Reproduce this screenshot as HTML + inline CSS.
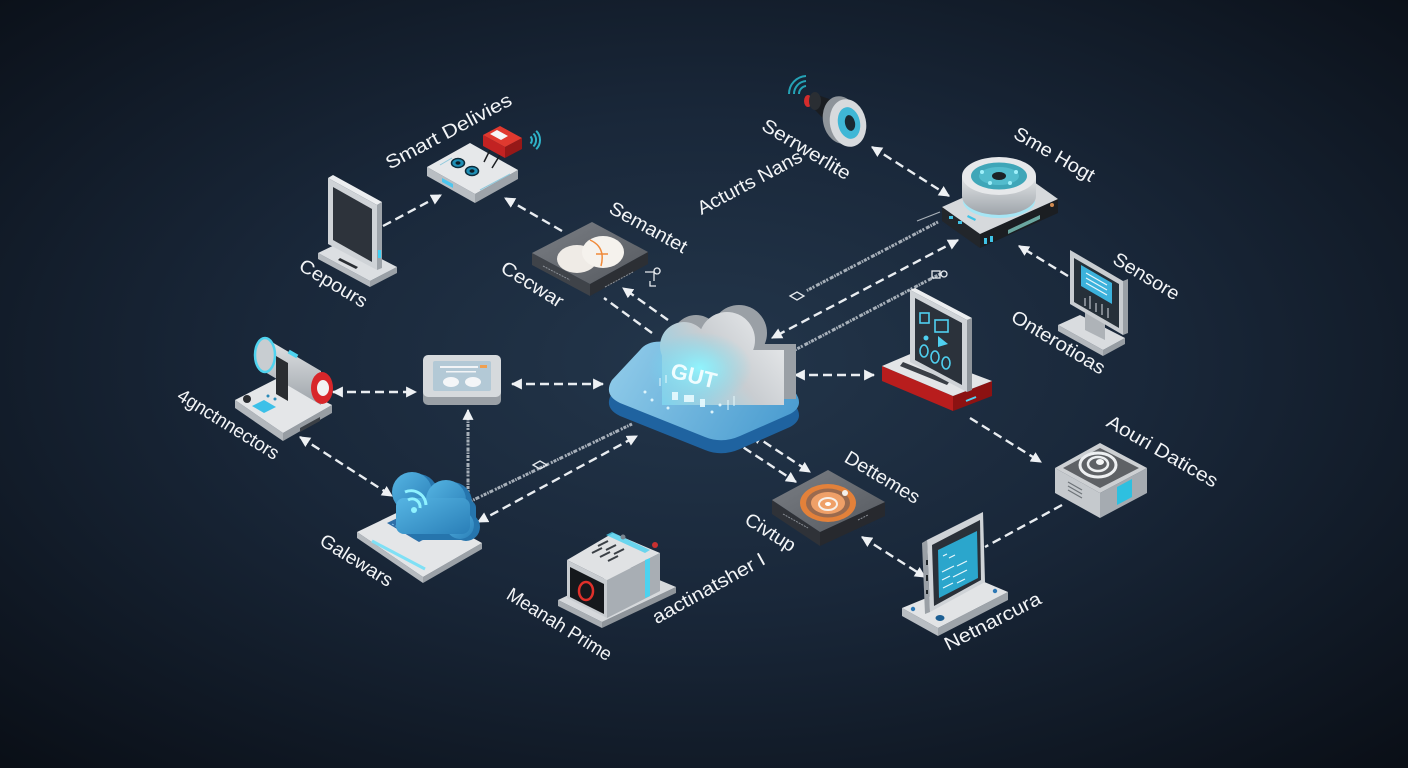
<!DOCTYPE html>
<html><head><meta charset="utf-8">
<style>
html,body{margin:0;padding:0;background:#0f1720;}
svg{display:block}
text{font-family:"Liberation Sans",sans-serif;fill:#f2f4f6;}
</style></head><body>
<svg width="1408" height="768" viewBox="0 0 1408 768" xmlns="http://www.w3.org/2000/svg">
<defs>
<radialGradient id="bg" cx="0.5" cy="0.47" r="0.72">
<stop offset="0" stop-color="#23364b"/>
<stop offset="0.45" stop-color="#192739"/>
<stop offset="1" stop-color="#0a0f17"/>
</radialGradient>
<linearGradient id="slab" x1="610" y1="345" x2="780" y2="445" gradientUnits="userSpaceOnUse">
<stop offset="0" stop-color="#93cdea"/><stop offset="1" stop-color="#4a9cd0"/>
</linearGradient>
<linearGradient id="cloudf" x1="770" y1="320" x2="665" y2="405" gradientUnits="userSpaceOnUse">
<stop offset="0" stop-color="#e6e8ea"/><stop offset="0.45" stop-color="#c9cdd1"/><stop offset="1" stop-color="#7fd2ec"/>
</linearGradient>
<radialGradient id="glow" cx="0.5" cy="0.5" r="0.5">
<stop offset="0" stop-color="#8ff6ff" stop-opacity="0.95"/><stop offset="1" stop-color="#6fdcf5" stop-opacity="0"/>
</radialGradient>
<linearGradient id="gcloud" x1="0" y1="0" x2="1" y2="1">
<stop offset="0" stop-color="#56b5e3"/><stop offset="1" stop-color="#2a7fb8"/>
</linearGradient>
<linearGradient id="cyl" x1="0" y1="0" x2="0" y2="1">
<stop offset="0" stop-color="#e2e5e7"/><stop offset="1" stop-color="#9ea4aa"/>
</linearGradient>
<linearGradient id="dgrey" x1="0" y1="0" x2="1" y2="1">
<stop offset="0" stop-color="#7b7f85"/><stop offset="1" stop-color="#55595f"/>
</linearGradient>
<marker id="a" viewBox="0 0 10 10" refX="9" refY="5" markerWidth="11" markerHeight="11" markerUnits="userSpaceOnUse" orient="auto-start-reverse"><path d="M0,0 L10,5 L0,10 z" fill="#eef1f4"/></marker>
</defs>

<rect width="1408" height="768" fill="url(#bg)"/>

<!-- code lines -->
<g fill="none" stroke="#c9d0d7" stroke-width="3" stroke-dasharray="2 1 3 1 1.5 1 4 2" opacity="0.8">
<line x1="938" y1="222" x2="806" y2="291"/>
<line x1="940" y1="274" x2="772" y2="362"/>
<line x1="467" y1="503" x2="632" y2="424"/>
<line x1="468" y1="492" x2="468" y2="414"/>
</g>
<line x1="468" y1="420" x2="468" y2="410" stroke="#e9edf1" stroke-width="2" marker-end="url(#a)"/>
<line x1="917" y1="221" x2="940" y2="212" stroke="#aab2ba" stroke-width="1.2"/>
<g fill="none" stroke="#e6eaee" stroke-width="1.3">
<polygon points="790,296 797,292 804,296 797,300"/>
<polygon points="533,465 540,461 547,465 540,469"/>
<rect x="932" y="271" width="8" height="7"/>
<circle cx="944" cy="274" r="3"/>
<path d="M645,272 h9 v9 M650,281 v5 h6 M657,274 a3,3 0 1 1 0.1,0"/>
</g>

<!-- dashed connectors -->
<g fill="none" stroke="#e9edf1" stroke-width="2.4" stroke-dasharray="9 5">
<line x1="383" y1="226" x2="441" y2="195" marker-end="url(#a)"/>
<line x1="562" y1="231" x2="505" y2="198" marker-end="url(#a)"/>
<line x1="668" y1="320" x2="623" y2="288" marker-end="url(#a)"/>
<line x1="652" y1="333" x2="604" y2="298"/>
<line x1="872" y1="147" x2="949" y2="196" marker-start="url(#a)" marker-end="url(#a)"/>
<line x1="958" y1="240" x2="772" y2="338" marker-start="url(#a)" marker-end="url(#a)"/>
<line x1="1068" y1="276" x2="1019" y2="246" marker-end="url(#a)"/>
<line x1="795" y1="375" x2="874" y2="375" marker-start="url(#a)" marker-end="url(#a)"/>
<line x1="970" y1="418" x2="1041" y2="462" marker-end="url(#a)"/>
<line x1="1062" y1="505" x2="985" y2="547"/>
<line x1="862" y1="537" x2="925" y2="577" marker-start="url(#a)" marker-end="url(#a)"/>
<line x1="732" y1="440" x2="796" y2="482" marker-end="url(#a)"/>
<line x1="752" y1="434" x2="810" y2="472" marker-start="url(#a)" marker-end="url(#a)"/>
<line x1="478" y1="522" x2="637" y2="436" marker-start="url(#a)" marker-end="url(#a)"/>
<line x1="512" y1="384" x2="603" y2="384" marker-start="url(#a)" marker-end="url(#a)"/>
<line x1="333" y1="392" x2="416" y2="392" marker-start="url(#a)" marker-end="url(#a)"/>
<line x1="300" y1="437" x2="392" y2="496" marker-start="url(#a)" marker-end="url(#a)"/>
</g>

<!-- Smart device -->
<polygon points="427,167 475,194 475,203 427,176" fill="#b9bec3"/>
<polygon points="475,194 518,170 518,179 475,203" fill="#9da3a9"/>
<polygon points="427,167 470,143 518,170 475,194" fill="#e6e8ea"/>
<polygon points="442,178 453,184 453,188 442,182" fill="#4cc6ef"/>
<ellipse cx="458" cy="163" rx="6.5" ry="4.5" fill="#1f8fb5" stroke="#0e2b3a" stroke-width="1.5"/>
<ellipse cx="458" cy="163" rx="2.5" ry="1.7" fill="#0d1d26"/>
<ellipse cx="472" cy="171" rx="6.5" ry="4.5" fill="#1f8fb5" stroke="#0e2b3a" stroke-width="1.5"/>
<ellipse cx="472" cy="171" rx="2.5" ry="1.7" fill="#0d1d26"/>
<g stroke="#8fc9dc" stroke-width="1"><line x1="480" y1="190" x2="510" y2="174"/><line x1="440" y1="165" x2="452" y2="158"/></g>
<path d="M490,150 L484,162 M500,155 L492,168" stroke="#1b1e22" stroke-width="1.5" fill="none"/>
<polygon points="483,135 505,147 505,158 483,146" fill="#c22222"/>
<polygon points="505,147 522,138 522,149 505,158" fill="#961818"/>
<polygon points="483,135 500,126 522,138 505,147" fill="#e0392f"/>
<polygon points="490,134 497,130 508,136 501,140" fill="#f6f6f6"/>
<g fill="none" stroke="#2fb3c9" stroke-width="2">
<path d="M530.5,136.5 A5,5 0 0 1 530.5,143.5"/>
<path d="M533.4,133.6 A9,9 0 0 1 533.4,146.4"/>
<path d="M536.2,130.8 A13,13 0 0 1 536.2,149.2"/>
</g>

<!-- Cepours tablet -->
<polygon points="318,253 370,281 370,287 318,259" fill="#b5babf"/>
<polygon points="370,281 397,267 397,273 370,287" fill="#9aa0a6"/>
<polygon points="318,253 345,240 397,267 370,281" fill="#dcdfe2"/>
<polygon points="340,258 358,267 356,269 338,260" fill="#2a2e33"/>
<polygon points="377,205 382,202 382,268 377,270" fill="#9ea4aa"/>
<polygon points="328,178 333,175 382,202 377,205" fill="#eceef0"/>
<polygon points="328,178 377,205 377,270 328,244" fill="#cfd3d7"/>
<polygon points="333,187 372,209 372,262 333,240" fill="#2d333b"/>
<rect x="378" y="250" width="3" height="8" fill="#3fd0f5"/>

<!-- Semantet box -->
<polygon points="532,253 590,284 590,296 532,265" fill="#3f4349"/>
<polygon points="590,284 648,252 648,264 590,296" fill="#2c2f34"/>
<polygon points="532,253 592,222 648,252 590,284" fill="url(#dgrey)"/>
<ellipse cx="577" cy="259" rx="20" ry="14" fill="#efebe6"/>
<ellipse cx="603" cy="252" rx="21" ry="16" fill="#f5f2ed"/>
<path d="M590,240 Q606,247 601,266 M596,254 h12" stroke="#f08a3a" stroke-width="1.5" fill="none"/>
<g stroke="#8b9097" stroke-width="1" stroke-dasharray="2 1"><line x1="543" y1="266" x2="570" y2="280"/><line x1="605" y1="287" x2="633" y2="272"/></g>

<!-- Camera -->
<g fill="none" stroke="#25a3b6" stroke-width="2">
<path d="M799,94 A8,8 0 0 1 806,86"/>
<path d="M794,94 A13,13 0 0 1 806,81"/>
<path d="M789,94 A18,18 0 0 1 806,76"/>
</g>
<ellipse cx="808" cy="101" rx="4" ry="6" fill="#d42c2c"/>
<polygon points="812,93 838,102 846,142 815,110" fill="#1a1d21"/>
<ellipse cx="815" cy="101" rx="6" ry="9" fill="#2a2e33"/>
<ellipse cx="841" cy="120" rx="18" ry="24" transform="rotate(-12 841 120)" fill="#8e949a"/>
<ellipse cx="848" cy="123" rx="18" ry="24" transform="rotate(-12 848 123)" fill="#d7dadd"/>
<ellipse cx="849" cy="123" rx="11" ry="16" transform="rotate(-12 849 123)" fill="#3fb7d6"/>
<ellipse cx="850" cy="123" rx="5" ry="8" transform="rotate(-12 850 123)" fill="#1a2a33"/>

<!-- Sme Hogt hub -->
<polygon points="942,207 980,234 980,248 942,221" fill="#22262b"/>
<polygon points="980,234 1058,199 1058,213 980,248" fill="#1b1e22"/>
<polygon points="942,207 1020,172 1058,199 980,234" fill="#d6d9dc"/>
<g fill="#3fc3e6"><rect x="949" y="216" width="4" height="3"/><rect x="958" y="221" width="4" height="3"/><rect x="984" y="238" width="3" height="6"/><rect x="990" y="236" width="3" height="6"/></g>
<polygon points="968,215 976,219 975,221 967,217" fill="#3fc3e6"/>
<polygon points="1008,230 1040,215 1040,219 1008,234" fill="#6aa7a0"/>
<circle cx="1052" cy="205" r="2" fill="#d08a50"/>
<ellipse cx="999" cy="201" rx="36" ry="17" fill="#a6e6f5"/>
<path d="M962,176 L962,196 A37,19 0 0 0 1036,196 L1036,176 Z" fill="url(#cyl)"/>
<ellipse cx="999" cy="176" rx="37" ry="19" fill="#e6e8ea"/>
<ellipse cx="999" cy="176" rx="28" ry="13.5" fill="#3fa6b8"/>
<ellipse cx="999" cy="176" rx="20" ry="9" fill="#5cc6d6" opacity="0.7"/>
<ellipse cx="999" cy="176" rx="7" ry="4" fill="#1c2226"/>
<g fill="#9ff0fa"><circle cx="982" cy="172" r="2"/><circle cx="1016" cy="172" r="2"/><circle cx="990" cy="183" r="2"/><circle cx="1010" cy="183" r="2"/></g>

<!-- Sensore monitor -->
<polygon points="1058,325 1103,350 1103,356 1058,331" fill="#b3b8bd"/>
<polygon points="1103,350 1125,338 1125,344 1103,356" fill="#979da3"/>
<polygon points="1058,325 1080,315 1125,338 1103,350" fill="#d9dcdf"/>
<polygon points="1085,305 1105,315 1105,340 1085,330" fill="#aeb3b8"/>
<polygon points="1123,281 1128,279 1128,333 1123,335" fill="#9aa0a6"/>
<polygon points="1070,250 1123,281 1123,335 1070,304" fill="#c9cdd1"/>
<polygon points="1074,258 1119,284 1119,328 1074,302" fill="#263039"/>
<polygon points="1081,265 1112,283 1112,304 1081,286" fill="#3cb2dc"/>
<g stroke="#e8f6fb" stroke-width="1.2"><line x1="1086" y1="273" x2="1107" y2="285"/><line x1="1086" y1="278" x2="1107" y2="290"/><line x1="1086" y1="283" x2="1107" y2="295"/></g>
<g stroke="#d8dde2" stroke-width="1"><line x1="1085" y1="298" x2="1085" y2="306"/><line x1="1090" y1="296" x2="1090" y2="309"/><line x1="1096" y1="303" x2="1096" y2="312"/><line x1="1102" y1="304" x2="1102" y2="315"/><line x1="1108" y1="308" x2="1108" y2="318"/></g>

<!-- Cloud center -->
<path d="M612,393 Q603,408 620,416 L705,450 Q722,457 740,449 L790,427 Q805,419 795,405 L760,373 Q750,363 735,363 L665,355 Q648,353 640,363 Z" fill="#1f63a0"/>
<path d="M612,380 Q603,395 620,403 L705,437 Q722,444 740,436 L790,414 Q805,406 795,392 L760,360 Q750,350 735,350 L665,342 Q648,340 640,350 Z" fill="url(#slab)"/>
<g fill="#9aa0a6">
<circle cx="696" cy="339" r="24"/><circle cx="739" cy="333" r="28"/><circle cx="776" cy="371" r="20"/>
<rect x="674" y="344" width="122" height="55"/>
</g>
<g fill="url(#cloudf)">
<circle cx="684" cy="346" r="24"/><circle cx="727" cy="340" r="28"/><circle cx="764" cy="378" r="20"/>
<rect x="662" y="350" width="122" height="55"/>
</g>
<ellipse cx="700" cy="368" rx="52" ry="36" fill="url(#glow)"/>
<text transform="translate(692,383) rotate(14)" font-size="22" font-weight="bold" text-anchor="middle" style="fill:#effdff">GUT</text>
<g fill="#e9fbff" opacity="0.9">
<rect x="672" y="392" width="6" height="8"/><rect x="684" y="395" width="10" height="7"/><rect x="700" y="399" width="5" height="8"/>
<circle cx="645" cy="392" r="1.5"/><circle cx="652" cy="400" r="1.5"/><circle cx="668" cy="408" r="1.5"/><circle cx="712" cy="412" r="1.5"/><circle cx="720" cy="405" r="1.5"/>
</g>
<g stroke="#e9fbff" stroke-width="1.2" opacity="0.8"><line x1="660" y1="378" x2="660" y2="386"/><line x1="666" y1="375" x2="666" y2="383"/><line x1="728" y1="400" x2="728" y2="410"/><line x1="734" y1="396" x2="734" y2="406"/></g>

<!-- Small panel -->
<rect x="423" y="362" width="78" height="43" rx="5" fill="#9aa0a6"/>
<rect x="423" y="355" width="78" height="42" rx="5" fill="#d6dadd"/>
<rect x="433" y="361" width="58" height="30" rx="2" fill="#b3c9d6"/>
<rect x="440" y="366" width="38" height="2" fill="#f2f4f6"/>
<rect x="446" y="371" width="30" height="1.5" fill="#f2f4f6"/>
<rect x="480" y="365" width="7" height="3" fill="#f0a050"/>
<ellipse cx="451" cy="382" rx="8" ry="5" fill="#f4f6f8"/>
<ellipse cx="473" cy="382" rx="8" ry="5" fill="#f4f6f8"/>

<!-- Red device -->
<polygon points="882,366 953,396 953,411 882,381" fill="#b81d1d"/>
<polygon points="953,396 992,381 992,396 953,411" fill="#8c1212"/>
<polygon points="882,366 915,352 992,381 953,396" fill="#e3e5e7"/>
<polygon points="903,362 950,381 947,385 900,366" fill="#3a3f46"/>
<line x1="966" y1="401" x2="976" y2="397" stroke="#53d2f2" stroke-width="2"/>
<polygon points="967,320 972,318 972,390 967,392" fill="#8f959b"/>
<polygon points="910,290 915,288 972,318 967,320" fill="#eceef0"/>
<polygon points="910,290 967,320 967,392 910,362" fill="#cfd3d7"/>
<polygon points="915,298 962,323 962,385 915,360" fill="#2b323b"/>
<g fill="none" stroke="#4fd0f0" stroke-width="1.6">
<rect x="920" y="313" width="9" height="10"/><rect x="935" y="320" width="13" height="12"/>
<ellipse cx="924" cy="351" rx="4" ry="6"/><ellipse cx="935" cy="357" rx="4" ry="6"/><ellipse cx="946" cy="363" rx="4" ry="6"/>
</g>
<polygon points="938,336 948,344 938,347" fill="#4fd0f0"/>
<circle cx="926" cy="338" r="2.5" fill="#4fd0f0"/>

<!-- Xouri box -->
<polygon points="1055,468 1100,493 1100,518 1055,493" fill="#c5c9cd"/>
<polygon points="1100,493 1147,468 1147,493 1100,518" fill="#a5abb1"/>
<polygon points="1055,468 1100,443 1147,468 1100,493" fill="#cdd0d3"/>
<polygon points="1063,468 1100,448 1139,468 1100,488" fill="#5e6165"/>
<ellipse cx="1098" cy="465" rx="18" ry="12" fill="none" stroke="#eef0f2" stroke-width="3"/>
<ellipse cx="1098" cy="464" rx="10" ry="7" fill="none" stroke="#eef0f2" stroke-width="2.5"/>
<ellipse cx="1100" cy="462" rx="4" ry="3" fill="#f5f6f7"/>
<polygon points="1117,487 1132,479 1132,497 1117,505" fill="#2ec0e0"/>
<g stroke="#6e7479" stroke-width="1.2"><line x1="1068" y1="482" x2="1082" y2="490"/><line x1="1068" y1="486" x2="1082" y2="494"/><line x1="1068" y1="490" x2="1082" y2="498"/></g>

<!-- Dettemes box -->
<polygon points="772,500 820,532 820,546 772,514" fill="#2f3238"/>
<polygon points="820,532 885,502 885,516 820,546" fill="#27292e"/>
<polygon points="772,500 828,470 885,502 820,532" fill="url(#dgrey)"/>
<ellipse cx="828" cy="503" rx="28" ry="19" fill="#e3813a"/>
<ellipse cx="828" cy="503" rx="22" ry="14.5" fill="#9a6a4e"/>
<ellipse cx="828" cy="503" rx="17" ry="11" fill="#efa068"/>
<ellipse cx="828" cy="504" rx="9" ry="6" fill="none" stroke="#f6f0ea" stroke-width="2"/>
<ellipse cx="828" cy="504" rx="3" ry="2" fill="#ffffff"/>
<circle cx="845" cy="493" r="3" fill="#f5f0ea"/>
<g stroke="#8b9097" stroke-width="1" stroke-dasharray="2 1"><line x1="783" y1="514" x2="808" y2="528"/><line x1="858" y1="520" x2="868" y2="515"/></g>

<!-- Netnarcura tablet -->
<polygon points="902,608 938,628 938,636 902,616" fill="#b8bdc2"/>
<polygon points="938,628 1008,592 1008,600 938,636" fill="#9ea4aa"/>
<polygon points="902,608 975,578 1008,592 938,628" fill="#e2e4e6"/>
<circle cx="913" cy="609" r="2.2" fill="#2d78b5"/>
<ellipse cx="940" cy="618" rx="4.5" ry="3" fill="#1d5f93"/>
<circle cx="995" cy="591" r="2.2" fill="#2d78b5"/>
<polygon points="922,543 927,540 930,612 925,614" fill="#9aa0a6"/>
<polygon points="927,540 983,512 985,582 930,612" fill="#cfd3d7"/>
<polygon points="932,545 980,520 981,580 934,606" fill="#2a3038"/>
<polygon points="938,550 977,531 978,578 939,598" fill="#2ba6cc"/>
<g stroke="#e9f8fd" stroke-width="1.2" fill="none"><path d="M943,556 l4,-2 m2,4 l6,-3"/><path d="M942,572 l12,-6 m3,0 l10,-5"/><path d="M942,580 l8,-4 m3,1 l14,-7"/><path d="M943,588 l10,-5 m4,0 l8,-4"/></g>
<g fill="#1f2529"><rect x="926" y="560" width="2" height="5"/><rect x="926" y="575" width="2" height="6"/><rect x="926" y="590" width="2" height="4"/></g>

<!-- Meanah Prime -->
<polygon points="558,600 602,622 602,628 558,606" fill="#a9aeb3"/>
<polygon points="602,622 676,587 676,593 602,628" fill="#8e949a"/>
<polygon points="558,600 628,567 676,587 602,622" fill="#d6d9dc"/>
<polygon points="567,560 607,580 607,618 567,598" fill="#c8ccd0"/>
<polygon points="607,580 660,553 660,591 607,618" fill="#a8aeb4"/>
<polygon points="567,560 613,533 660,553 607,580" fill="#e0e2e4"/>
<polygon points="570,567 604,584 604,614 570,597" fill="#15181c"/>
<ellipse cx="586" cy="591" rx="7" ry="9" fill="none" stroke="#e0302a" stroke-width="2.5"/>
<polygon points="645,560 650,558 650,596 645,598" fill="#4cd2f0"/>
<polygon points="606,535 612,532 650,550 645,553" fill="#4cd2f0" opacity="0.8"/>
<g stroke="#3a3f45" stroke-width="2"><line x1="592" y1="553" x2="602" y2="548"/><line x1="600" y1="557" x2="610" y2="552"/><line x1="608" y1="561" x2="618" y2="556"/><line x1="598" y1="546" x2="608" y2="541"/><line x1="606" y1="550" x2="616" y2="545"/><line x1="614" y1="554" x2="624" y2="549"/></g>
<circle cx="655" cy="545" r="3" fill="#c83030"/>
<circle cx="623" cy="537" r="2.5" fill="#7a8590"/>

<!-- Gatewars -->
<polygon points="357,532 423,577 423,583 357,538" fill="#b5babf"/>
<polygon points="423,577 482,543 482,549 423,583" fill="#9ba1a7"/>
<polygon points="357,532 413,505 482,543 423,577" fill="#e4e6e8"/>
<line x1="372" y1="541" x2="425" y2="569" stroke="#7fe0f5" stroke-width="3"/>
<polygon points="387,523 410,512 442,530 419,542" fill="#2f6fa8"/>
<g stroke="#9fd0f0" stroke-width="0.8" stroke-dasharray="2 2"><line x1="392" y1="524" x2="424" y2="541"/><line x1="397" y1="521" x2="429" y2="538"/><line x1="402" y1="519" x2="434" y2="536"/><line x1="407" y1="516" x2="439" y2="533"/></g>
<g fill="#2675ad">
<circle cx="418" cy="494" r="20"/><circle cx="452" cy="502" r="20"/><circle cx="466" cy="527" r="14"/>
<rect x="410" y="500" width="66" height="40" rx="8"/>
</g>
<g fill="url(#gcloud)">
<circle cx="412" cy="492" r="20"/><circle cx="446" cy="500" r="20"/><circle cx="460" cy="525" r="14"/>
<rect x="396" y="498" width="74" height="36" rx="8"/>
</g>
<g fill="none" stroke="#8ff2ff" stroke-width="3">
<path d="M408,500 A8,8 0 0 1 420,508"/><path d="M405,492 A15,15 0 0 1 426,505"/>
</g>
<circle cx="414" cy="510" r="3" fill="#8ff2ff"/>

<!-- Connectors device -->
<polygon points="235,400 283,433 283,441 235,408" fill="#b3b8bd"/>
<polygon points="283,433 332,405 332,413 283,441" fill="#979da3"/>
<polygon points="235,400 278,378 332,405 283,433" fill="#e4e6e8"/>
<circle cx="247" cy="399" r="4" fill="#2a2d31"/>
<polygon points="252,406 264,400 276,407 264,413" fill="#3cc0e8"/>
<circle cx="268" cy="396" r="1.5" fill="#2a8ab8"/><circle cx="275" cy="399" r="1.5" fill="#2a8ab8"/>
<polygon points="300,428 320,417 320,421 300,432" fill="#3a3f45"/>
<polygon points="265,338 321,371 321,405 265,372" fill="url(#cyl)"/>
<ellipse cx="265" cy="355" rx="10" ry="17" fill="#c8cdd1" stroke="#4fd3ef" stroke-width="2.5"/>
<polygon points="276,356 288,363 288,401 276,394" fill="#2a2d31"/>
<rect x="288" y="352" width="10" height="4" fill="#4fd3ef" transform="rotate(30 293 354)"/>
<ellipse cx="322" cy="388" rx="11" ry="16" fill="#d8262a"/>
<ellipse cx="323" cy="388" rx="6" ry="8" fill="#f2f2f2"/>

<!-- Labels -->
<g font-size="19" text-anchor="middle" dominant-baseline="central">
<text transform="translate(449,132) rotate(-28)" textLength="140" lengthAdjust="spacingAndGlyphs">Smart Delivies</text>
<text transform="translate(333,284) rotate(31)" textLength="76" lengthAdjust="spacingAndGlyphs">Cepours</text>
<text transform="translate(648,228) rotate(29)" textLength="86" lengthAdjust="spacingAndGlyphs">Semantet</text>
<text transform="translate(532,285) rotate(32)" textLength="70" lengthAdjust="spacingAndGlyphs">Cecwar</text>
<text transform="translate(806,150) rotate(31)" textLength="100" lengthAdjust="spacingAndGlyphs">Serrwerlite</text>
<text transform="translate(750,183) rotate(-28)" textLength="116" lengthAdjust="spacingAndGlyphs">Acturts Nans</text>
<text transform="translate(1054,155) rotate(30)" textLength="90" lengthAdjust="spacingAndGlyphs">Sme Hogt</text>
<text transform="translate(1146,277) rotate(31)" textLength="74" lengthAdjust="spacingAndGlyphs">Sensore</text>
<text transform="translate(1058,343) rotate(31)" textLength="106" lengthAdjust="spacingAndGlyphs">Onterotioas</text>
<text transform="translate(1162,452) rotate(30)" textLength="125" lengthAdjust="spacingAndGlyphs">Aouri Datices</text>
<text transform="translate(993,622) rotate(-27)" textLength="106" lengthAdjust="spacingAndGlyphs">Netnarcura</text>
<text transform="translate(882,478) rotate(31)" textLength="84" lengthAdjust="spacingAndGlyphs">Dettemes</text>
<text transform="translate(770,533) rotate(32)" textLength="56" lengthAdjust="spacingAndGlyphs">Civtup</text>
<text transform="translate(559,625) rotate(32)" textLength="120" lengthAdjust="spacingAndGlyphs">Meanah Prime</text>
<text transform="translate(709,589) rotate(-29)" textLength="126" lengthAdjust="spacingAndGlyphs">aactinatsher I</text>
<text transform="translate(356,561) rotate(32)" textLength="82" lengthAdjust="spacingAndGlyphs">Galewars</text>
<text transform="translate(228,425) rotate(32)" textLength="116" lengthAdjust="spacingAndGlyphs">4gnctnnectors</text>
</g>
</svg>
</body></html>
